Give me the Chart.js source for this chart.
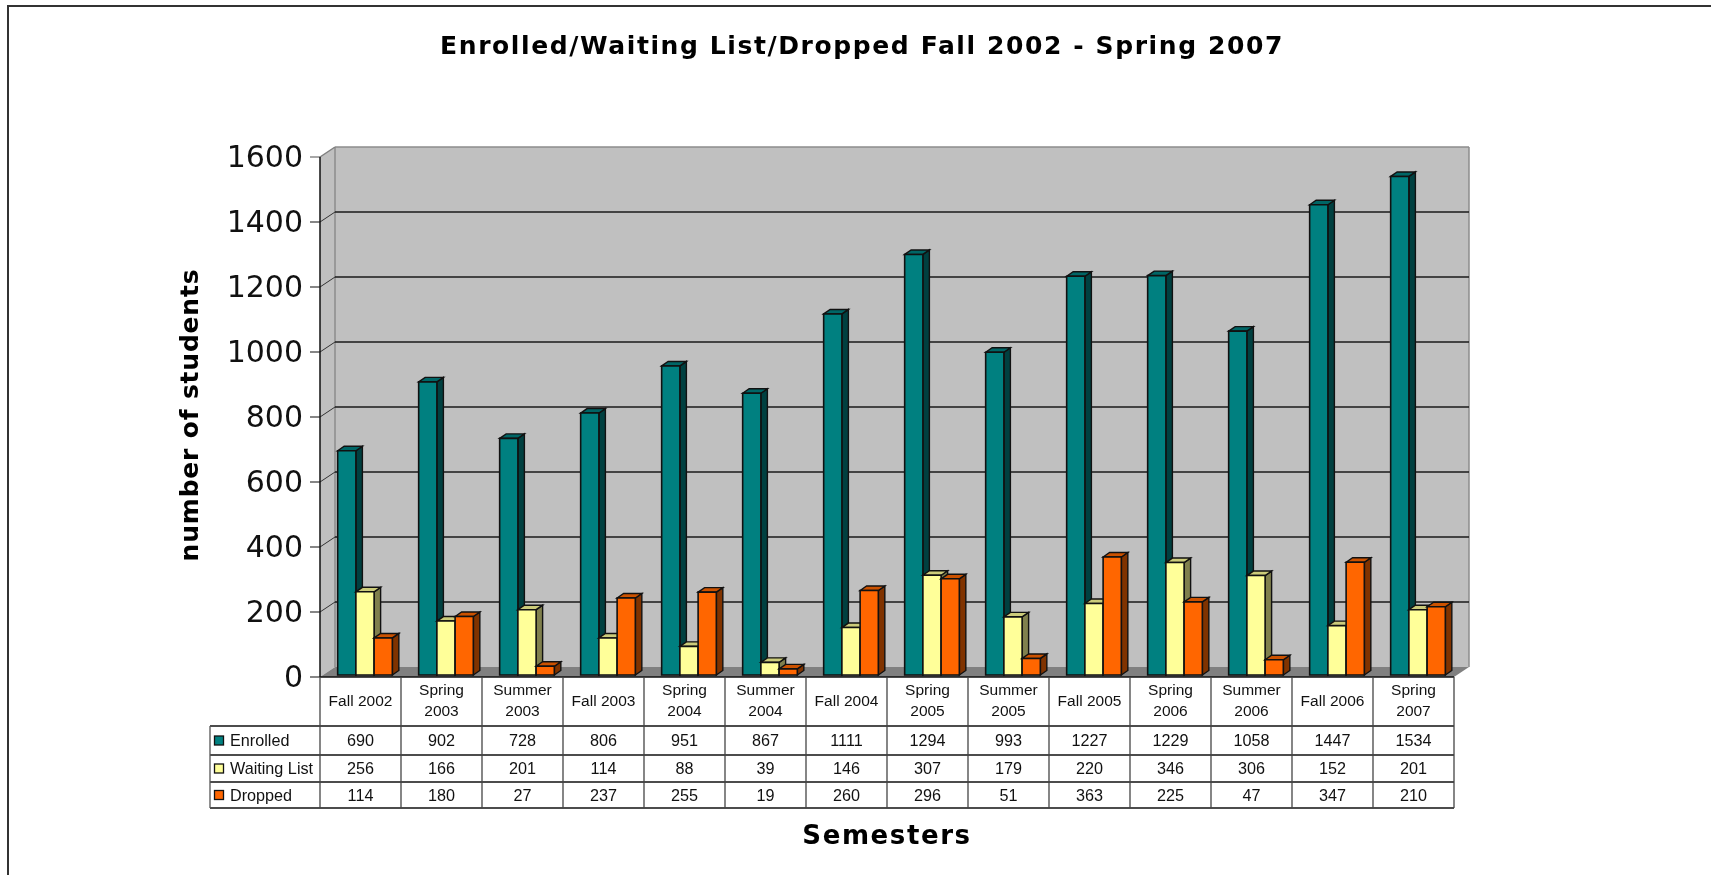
<!DOCTYPE html>
<html><head><meta charset="utf-8">
<style>html,body{margin:0;padding:0;background:#fff;overflow:hidden}canvas{display:block}</style>
<script src="https://cdn.jsdelivr.net/npm/chart.js@4"></script>
</head><body>
<div style="position:relative;width:1711px;height:875px"><canvas id="c" width="1711" height="875"></canvas></div>
<script>
const categories = [["Fall 2002"],["Spring","2003"],["Summer","2003"],["Fall 2003"],["Spring","2004"],["Summer","2004"],["Fall 2004"],["Spring","2005"],["Summer","2005"],["Fall 2005"],["Spring","2006"],["Summer","2006"],["Fall 2006"],["Spring","2007"]];
const enrolled = [690,902,728,806,951,867,1111,1294,993,1227,1229,1058,1447,1534];
const waitingList = [256,166,201,114,88,39,146,307,179,220,346,306,152,201];
const dropped = [114,180,27,237,255,19,260,296,51,363,225,47,347,210];
const seriesNames = ["Enrolled","Waiting List","Dropped"];
const frontColors = ["#008080","#FFFF99","#FF6600"];
const sideColors = ["#004040","#80804D","#803300"];
const topColors = ["#006666","#CCCC7A","#CC5200"];
const yTicks = [0,200,400,600,800,1000,1200,1400,1600];
const titleText = "Enrolled/Waiting List/Dropped Fall 2002 - Spring 2007";

const DX = 6.5, DY = -4.5;           // bar depth
const FRONT = {dx:-4.5, dy:2};       // front plane relative to the bars
const BACK = {dx:10.5, dy:-8};       // back wall relative to the bars
const TEXT = "16.2px 'Liberation Sans', Arial, sans-serif";

function line(ctx,x1,y1,x2,y2,color,w){ctx.strokeStyle=color;ctx.lineWidth=w;ctx.beginPath();ctx.moveTo(x1,y1);ctx.lineTo(x2,y2);ctx.stroke();}
function poly(ctx,pts,fill,stroke,w){ctx.beginPath();pts.forEach((p,i)=>i?ctx.lineTo(p[0],p[1]):ctx.moveTo(p[0],p[1]));ctx.closePath();ctx.fillStyle=fill;ctx.fill();if(stroke){ctx.strokeStyle=stroke;ctx.lineWidth=w;ctx.stroke();}}
function spaced(owner,method,spacing){
  const orig=owner[method];
  if(owner['_sp'+method])return;
  owner['_sp'+method]=true;
  owner[method]=function(...args){
    const c=this.ctx;const prev=c.letterSpacing;
    c.letterSpacing=spacing;
    orig.apply(this,args);
    c.letterSpacing=prev;
  };
}

const scene3d = {
  id:'scene3d',
  afterLayout(chart){
    // centre the two horizontal titles as in the reference
    chart.titleBlock.right = 1724; chart.titleBlock.left = 0;
    const s = chart.scales.x; s.left -= 4.5; s.right -= 4.5;
    spaced(chart.titleBlock,'draw','1.6px');
    spaced(chart.scales.x,'drawTitle','1.6px');
    spaced(chart.scales.y,'drawTitle','0.8px');
  },
  beforeDatasetsDraw(chart){
    const {ctx,chartArea:a,scales:{y}} = chart;
    const fl=a.left+FRONT.dx, fr=a.right+FRONT.dx, bl=a.left+BACK.dx, br=a.right+BACK.dx;
    const y0=y.getPixelForValue(0), yMax=y.getPixelForValue(1600);
    ctx.save();
    // chart frame
    line(ctx,8,6,1711,6,'#333',2); line(ctx,8,5,8,875,'#333',2);
    // walls and floor
    poly(ctx,[[bl,yMax+BACK.dy],[br,yMax+BACK.dy],[br,y0+BACK.dy],[bl,y0+BACK.dy]],'#C0C0C0');
    poly(ctx,[[fl,yMax+FRONT.dy],[bl,yMax+BACK.dy],[bl,y0+BACK.dy],[fl,y0+FRONT.dy]],'#C0C0C0');
    poly(ctx,[[fl,y0+FRONT.dy],[fr,y0+FRONT.dy],[br,y0+BACK.dy],[bl,y0+BACK.dy]],'#808080');
    line(ctx,bl,yMax+BACK.dy,br,yMax+BACK.dy,'#8c8c8c',1.5);
    line(ctx,br,yMax+BACK.dy,br,y0+BACK.dy,'#8c8c8c',1.5);
    line(ctx,bl,yMax+BACK.dy,bl,y0+BACK.dy,'#8c8c8c',1.5);
    line(ctx,fl,yMax+FRONT.dy,bl,yMax+BACK.dy,'#808080',1.5);
    yTicks.forEach(v=>{
      const p=y.getPixelForValue(v);
      if(v>0&&v<1600){
        line(ctx,bl,p+BACK.dy,br,p+BACK.dy,'#1a1a1a',1.3);
        line(ctx,fl,p+FRONT.dy,bl,p+BACK.dy,'#333',1);
      }
      line(ctx,fl-10,p+FRONT.dy,fl,p+FRONT.dy,v===1600?'#777':'#444',1.3);
    });
    line(ctx,fl,yMax+FRONT.dy,fl,y0+FRONT.dy,'#111',1.5);
    // data table
    const rows=[726,755,782,808], top=y0+FRONT.dy, keyL=210;
    const n=categories.length, cw=(fr-fl)/n;
    line(ctx,fl,top,fr,top,'#111',1.5);
    line(ctx,keyL,rows[0],fr,rows[0],'#111',1.3);
    line(ctx,keyL,rows[1],fr,rows[1],'#111',1.3);
    line(ctx,keyL,rows[2],fr,rows[2],'#111',1.3);
    line(ctx,keyL,rows[3],fr,rows[3],'#111',1.5);
    line(ctx,keyL,rows[0],keyL,rows[3],'#555',1.3);
    for(let i=0;i<=n;i++){const x=fl+i*cw;line(ctx,x,top,x,rows[3],'#444',1.3);}
    ctx.font=TEXT;ctx.textBaseline='middle';ctx.fillStyle='#111';
    [enrolled,waitingList,dropped].forEach((vals,r)=>{
      const cy=(rows[r]+rows[r+1])/2;
      ctx.fillStyle=frontColors[r];ctx.fillRect(214.5,cy-4.5,9,9);
      ctx.strokeStyle='#111';ctx.lineWidth=1.3;ctx.strokeRect(214.5,cy-4.5,9,9);
      ctx.fillStyle='#111';ctx.textAlign='left';ctx.fillText(seriesNames[r],230,cy+1.5);
      ctx.textAlign='center';
      vals.forEach((v,i)=>ctx.fillText(String(v),fl+(i+0.5)*cw,cy+1.5));
    });
    ctx.restore();
  },
  afterDatasetsDraw(chart){
    const {ctx}=chart;
    ctx.save();
    ctx.lineJoin='miter';
    [0,1,2].forEach(d=>{
      chart.getDatasetMeta(d).data.forEach(el=>{
        const {x,y,base,width}=el.getProps(['x','y','base','width'],true);
        const l=x-width/2,r=x+width/2;
        poly(ctx,[[r,y],[r+DX,y+DY],[r+DX,base+DY],[r,base]],sideColors[d],'#111',1.4);
        poly(ctx,[[l,y],[l+DX,y+DY],[r+DX,y+DY],[r,y]],topColors[d],'#111',1.4);
        poly(ctx,[[l,y],[r,y],[r,base],[l,base]],frontColors[d],'#111',1.6);
      });
    });
    ctx.restore();
  }
};

new Chart(document.getElementById('c'),{
  type:'bar',
  data:{labels:categories,datasets:[
    {label:seriesNames[0],data:enrolled,backgroundColor:frontColors[0]},
    {label:seriesNames[1],data:waitingList,backgroundColor:frontColors[1]},
    {label:seriesNames[2],data:dropped,backgroundColor:frontColors[2]}
  ]},
  options:{
    responsive:false,animation:false,events:[],
    categoryPercentage:0.675,barPercentage:1,
    layout:{padding:{left:0,right:252.5,top:0,bottom:0}},
    plugins:{
      legend:{display:false},tooltip:{enabled:false},
      title:{display:true,text:titleText,color:'#000',
        font:{family:"'DejaVu Sans',Verdana,sans-serif",size:25,weight:'bold',lineHeight:1.2},
        padding:{top:32,bottom:93}}
    },
    scales:{
      x:{
        grid:{display:false},border:{display:false},
        afterFit(s){s.height=200;},
        ticks:{color:'#111',autoSkip:false,maxRotation:0,minRotation:0,padding:8,crossAlign:'center',labelOffset:-4.5,
          font:{family:"'Liberation Sans',Arial,sans-serif",size:15.5,lineHeight:1.355}},
        title:{display:true,text:'Semesters',color:'#000',
          font:{family:"'DejaVu Sans',Verdana,sans-serif",size:26,weight:'bold',lineHeight:1.2},
          padding:{top:0,bottom:22.4}}
      },
      y:{
        min:0,max:1600,
        grid:{display:false,drawTicks:false},border:{display:false},
        afterFit(s){s.width=324.5;},
        afterBuildTicks(s){s.ticks=yTicks.map(v=>({value:v}));},
        ticks:{color:'#111',padding:21.5,labelOffset:4,callback:v=>String(v),
          font:{family:"'DejaVu Sans',Verdana,sans-serif",size:30}},
        title:{display:true,text:'number of students',color:'#000',
          font:{family:"'DejaVu Sans',Verdana,sans-serif",size:25,weight:'bold',lineHeight:1.2},
          padding:{top:176,bottom:0}}
      }
    }
  },
  plugins:[scene3d]
});
</script>
</body></html>
